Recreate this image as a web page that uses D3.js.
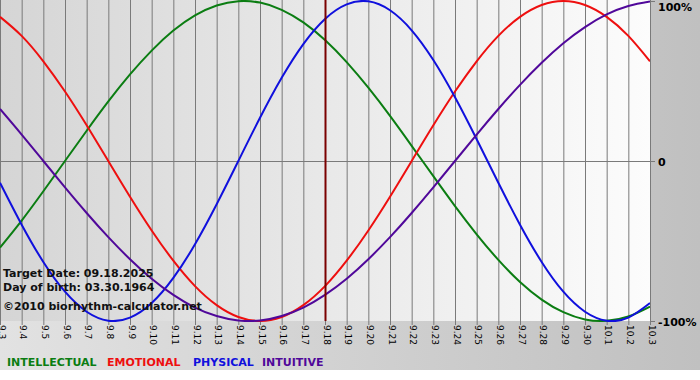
<!DOCTYPE html>
<html>
<head>
<meta charset="utf-8">
<script src="https://cdn.jsdelivr.net/npm/d3@7"></script>
<style>
  html, body { margin: 0; padding: 0; background: #ffffff; }
  svg { display: block; }
</style>
</head>
<body>
<svg id="chart" width="700" height="380"></svg>
<script>
// ---- data ----
const days = ["9.3","9.4","9.5","9.6","9.7","9.8","9.9","9.10","9.11","9.12","9.13","9.14","9.15","9.16","9.17","9.18","9.19","9.20","9.21","9.22","9.23","9.24","9.25","9.26","9.27","9.28","9.29","9.30","10.1","10.2","10.3"];
const intellectual = [-0.541,-0.372,-0.189,0.000,0.189,0.372,0.541,0.690,0.815,0.910,0.972,0.999,0.990,0.945,0.866,0.756,0.618,0.458,0.282,0.095,-0.095,-0.282,-0.458,-0.618,-0.756,-0.866,-0.945,-0.990,-0.999,-0.972,-0.910];
const emotional = [0.901,0.782,0.623,0.434,0.223,0.000,-0.223,-0.434,-0.623,-0.782,-0.901,-0.975,-1.000,-0.975,-0.901,-0.782,-0.623,-0.434,-0.223,0.000,0.223,0.434,0.623,0.782,0.901,0.975,1.000,0.975,0.901,0.782,0.623];
const physical = [-0.136,-0.398,-0.631,-0.817,-0.942,-0.998,-0.979,-0.888,-0.731,-0.520,-0.270,0.000,0.270,0.520,0.731,0.888,0.979,0.998,0.942,0.817,0.631,0.398,0.136,-0.136,-0.398,-0.631,-0.817,-0.942,-0.998,-0.979,-0.888];
const intuitive = [0.325,0.165,0.000,-0.165,-0.325,-0.476,-0.614,-0.736,-0.837,-0.916,-0.969,-0.997,-0.997,-0.969,-0.916,-0.837,-0.736,-0.614,-0.476,-0.325,-0.165,0.000,0.165,0.325,0.476,0.614,0.736,0.837,0.916,0.969,0.997];
const seriesNames = ["INTELLECTUAL","EMOTIONAL","PHYSICAL","INTUITIVE"];
const seriesColors = ["#0b7d12","#ee0f0f","#1010dd","#50089a"];
const yTickValues = [1, 0, -1];
const yTickLabels = ["100%", "0", "-100%"];
const targetDay = "9.18";
const infoLines = ["Target Date: 09.18.2025", "Day of birth: 03.30.1964", "\u00a92010 biorhythm-calculator.net"];

// ---- layout ----
const svg = d3.select("#chart");
const W = 700, H = 380;
const plot = {left: 0, right: 650, top: 1, bottom: 321};

const defs = svg.append("defs");
const bgGrad = defs.append("linearGradient").attr("id", "bgGrad").attr("x1", "0").attr("x2", "1").attr("y1", "0").attr("y2", "0");
bgGrad.append("stop").attr("offset", "0").attr("stop-color", "#e2e2e2");
bgGrad.append("stop").attr("offset", "1").attr("stop-color", "#c0c0c0");
const plGrad = defs.append("linearGradient").attr("id", "plGrad").attr("x1", "0").attr("x2", "1").attr("y1", "0").attr("y2", "0");
plGrad.append("stop").attr("offset", "0").attr("stop-color", "#d5d5d5");
plGrad.append("stop").attr("offset", "1").attr("stop-color", "#fcfcfc");
defs.append("clipPath").attr("id", "clip").append("rect")
  .attr("x", plot.left).attr("y", 0).attr("width", plot.right - plot.left).attr("height", plot.bottom + 1);

svg.append("rect").attr("x", 0).attr("y", 0).attr("width", W).attr("height", 370).attr("fill", "url(#bgGrad)");
svg.append("rect").attr("x", plot.left).attr("y", 0).attr("width", plot.right - plot.left).attr("height", plot.bottom)
  .attr("fill", "url(#plGrad)");

const x = d3.scalePoint().domain(days).range([plot.left, plot.right]);
const y = d3.scaleLinear().domain([-1, 1]).range([plot.bottom, plot.top]);

// vertical grid lines + bottom ticks
svg.append("g").selectAll("line").data(days).join("line")
  .attr("x1", d => x(d) + 0.5).attr("x2", d => x(d) + 0.5)
  .attr("y1", 0).attr("y2", plot.bottom + 4)
  .attr("stroke", "#7a7a7a").attr("stroke-width", 1);

// zero line and right ticks
svg.append("line").attr("x1", plot.left).attr("x2", plot.right + 5)
  .attr("y1", Math.round(y(0)) + 0.5).attr("y2", Math.round(y(0)) + 0.5)
  .attr("stroke", "#7a7a7a");
svg.append("g").selectAll("line").data(yTickValues).join("line")
  .attr("x1", plot.right).attr("x2", plot.right + 5)
  .attr("y1", d => Math.round(y(d)) + 0.5).attr("y2", d => Math.round(y(d)) + 0.5)
  .attr("stroke", "#7a7a7a");

// x labels rotated
svg.append("g").selectAll("text").data(days).join("text")
  .attr("transform", d => `translate(${x(d) + 1},${plot.bottom + 4}) rotate(90)`)
  .attr("dominant-baseline", "middle")
  .attr("font-family", "DejaVu Sans, Verdana, sans-serif")
  .attr("font-size", "9px")
  .attr("fill", "#000")
  .text(d => d);

// y labels
svg.append("g").selectAll("text").data(yTickValues).join("text")
  .attr("x", plot.right + 8)
  .attr("y", (d, i) => Math.max(y(d) + 5, 11))
  .attr("font-family", "DejaVu Sans, Verdana, sans-serif")
  .attr("font-weight", "bold")
  .attr("font-size", "11px")
  .attr("fill", "#000")
  .text((d, i) => yTickLabels[i]);

// curves
const allSeries = [intellectual, emotional, physical, intuitive];
const line = d3.line().x((d, i) => x(days[i])).y(d => y(d)).curve(d3.curveNatural);
const g = svg.append("g").attr("clip-path", "url(#clip)");
g.selectAll("path").data(allSeries).join("path")
  .attr("d", d => line(d))
  .attr("fill", "none")
  .attr("stroke", (d, i) => seriesColors[i])
  .attr("stroke-width", 2);

// target line
svg.append("line").attr("x1", x(targetDay) + 0.5).attr("x2", x(targetDay) + 0.5)
  .attr("y1", 0).attr("y2", plot.bottom)
  .attr("stroke", "#7a0000").attr("stroke-width", 2);

// info text
const infoY = [277, 291, 310];
svg.append("g").selectAll("text").data(infoLines).join("text")
  .attr("x", 3).attr("y", (d, i) => infoY[i])
  .attr("font-family", "DejaVu Sans, Verdana, sans-serif")
  .attr("font-weight", "bold")
  .attr("font-size", "11px")
  .attr("fill", "#111")
  .text(d => d);

// legend
const legendX = [7, 107, 193, 262];
svg.append("g").selectAll("text").data(seriesNames).join("text")
  .attr("x", (d, i) => legendX[i]).attr("y", 366)
  .attr("font-family", "DejaVu Sans, Verdana, sans-serif")
  .attr("font-weight", "bold")
  .attr("font-size", "11px")
  .attr("fill", (d, i) => seriesColors[i])
  .text(d => d);
</script>
</body>
</html>
